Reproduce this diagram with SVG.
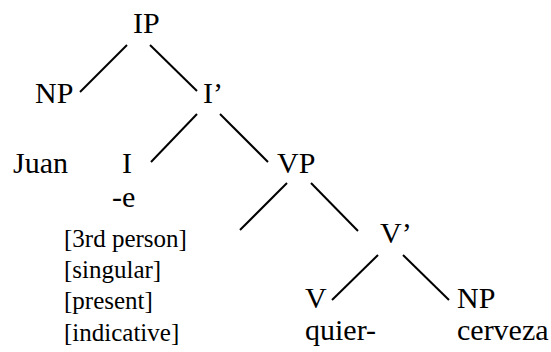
<svg xmlns="http://www.w3.org/2000/svg" width="551" height="352" viewBox="0 0 551 352">
<style>
text{fill:#000}
.l{font-size:30px}
.f{font-size:25px}
#edges line{stroke:#000;stroke-width:2;stroke-linecap:butt}
</style>
<rect width="551" height="352" fill="#fff"/>
<g id="edges">
<line x1="127" y1="45" x2="80" y2="92"/>
<line x1="150" y1="45" x2="197" y2="91"/>
<line x1="197" y1="114" x2="151" y2="162"/>
<line x1="220" y1="114" x2="268" y2="162"/>
<line x1="287" y1="183" x2="240" y2="230"/>
<line x1="311" y1="183" x2="358" y2="231"/>
<line x1="378" y1="255" x2="332" y2="300"/>
<line x1="403" y1="255" x2="449" y2="300"/>
</g>
<g font-family="'Liberation Serif', 'DejaVu Serif', serif">
<g id="IP"><text class="l" x="133" y="33">IP</text></g>
<g id="NP1"><text class="l" x="35" y="103">NP</text></g>
<g id="Ibar"><text class="l" x="203" y="103">I’</text></g>
<g id="Juan"><text class="l" x="13" y="173">Juan</text></g>
<g id="I"><text class="l" x="122" y="173">I</text>
<text class="l" x="112" y="207">-e</text>
<text class="f" x="64" y="247">[3rd person]</text>
<text class="f" x="64" y="278">[singular]</text>
<text class="f" x="64" y="309">[present]</text>
<text class="f" x="64" y="341">[indicative]</text></g>
<g id="VP"><text class="l" x="277" y="173">VP</text></g>
<g id="Vbar"><text class="l" x="380" y="243">V’</text></g>
<g id="V"><text class="l" x="305" y="308">V</text>
<text class="l" x="305" y="340">quier-</text></g>
<g id="NP2"><text class="l" x="457" y="308">NP</text>
<text class="l" x="457" y="340">cerveza</text></g>
</g>
</svg>
